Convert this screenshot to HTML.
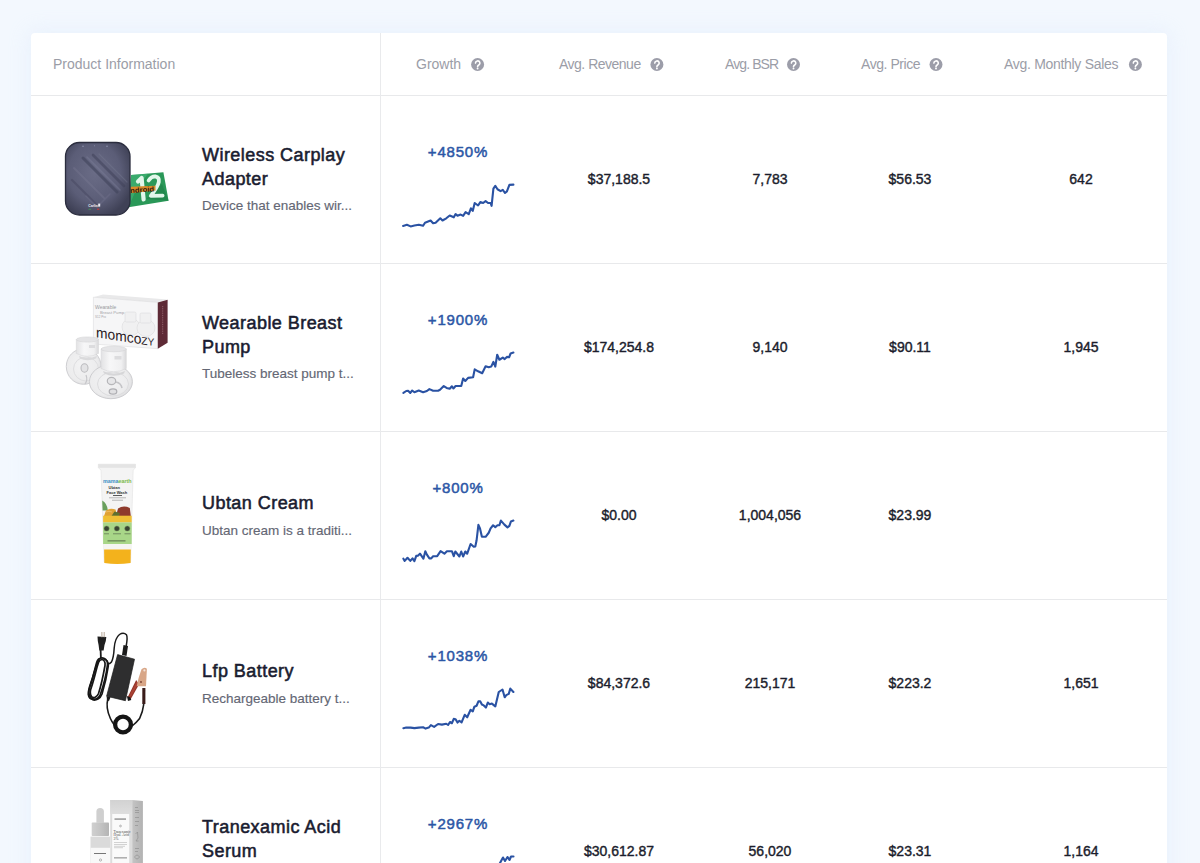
<!DOCTYPE html>
<html>
<head>
<meta charset="utf-8">
<style>
html,body{margin:0;padding:0}
body{width:1200px;height:863px;overflow:hidden;background:#f3f8fe;font-family:"Liberation Sans",sans-serif;position:relative}
.card{position:absolute;left:31px;top:33px;width:1136px;height:900px;background:#fff;border-radius:4px;box-shadow:0 0 20px 2px rgba(208,226,250,0.3)}
.hl{position:absolute;left:31px;width:1136px;height:1px;background:#e8e9eb}
.vl{position:absolute;left:380px;top:33px;width:1px;height:840px;background:#e9eaec}
.t{position:absolute;white-space:nowrap}
.hd{font-size:14px;color:#9b9da7;line-height:16px;top:56px}
.ti{font-size:18px;font-weight:400;-webkit-text-stroke:0.55px #1a1c30;letter-spacing:0.45px;color:#1a1c30;line-height:24px;left:202px}
.ds{font-size:13.5px;color:#646774;-webkit-text-stroke:0.15px #646774;line-height:16px;left:202px}
.num{font-size:14px;font-weight:400;-webkit-text-stroke:0.4px #1b1d2c;color:#1b1d2c;line-height:16px;width:200px;text-align:center}
.gr{font-size:15px;font-weight:400;-webkit-text-stroke:0.5px #2c57a6;color:#2c57a6;line-height:18px;width:200px;text-align:center;letter-spacing:0.8px}
svg{position:absolute;left:0;top:0}
</style>
</head>
<body>
<div class="card"></div>
<div class="hl" style="top:95px"></div>
<div class="hl" style="top:263px"></div>
<div class="hl" style="top:431px"></div>
<div class="hl" style="top:599px"></div>
<div class="hl" style="top:767px"></div>
<div class="vl"></div>

<!-- header -->
<div class="t hd" style="left:53px">Product Information</div>
<div class="t hd" style="left:416px">Growth</div>
<div class="t hd" style="left:559px;letter-spacing:-0.5px">Avg. Revenue</div>
<div class="t hd" style="left:725px;letter-spacing:-0.9px">Avg. BSR</div>
<div class="t hd" style="left:861px;letter-spacing:-0.45px">Avg. Price</div>
<div class="t hd" style="left:1004px;letter-spacing:-0.3px">Avg. Monthly Sales</div>

<!-- row titles -->
<div class="t ti" style="top:143px">Wireless Carplay<br>Adapter</div>
<div class="t ds" style="top:198px">Device that enables wir...</div>
<div class="t ti" style="top:311px">Wearable Breast<br>Pump</div>
<div class="t ds" style="top:366px">Tubeless breast pump t...</div>
<div class="t ti" style="top:491px">Ubtan Cream</div>
<div class="t ds" style="top:523px">Ubtan cream is a traditi...</div>
<div class="t ti" style="top:659px">Lfp Battery</div>
<div class="t ds" style="top:691px">Rechargeable battery t...</div>
<div class="t ti" style="top:815px">Tranexamic Acid<br>Serum</div>

<!-- growth -->
<div class="t gr" style="left:358px;top:143px">+4850%</div>
<div class="t gr" style="left:358px;top:311px">+1900%</div>
<div class="t gr" style="left:358px;top:479px">+800%</div>
<div class="t gr" style="left:358px;top:647px">+1038%</div>
<div class="t gr" style="left:358px;top:815px">+2967%</div>

<!-- numbers -->
<div class="t num" style="left:519px;top:171px">$37,188.5</div>
<div class="t num" style="left:670px;top:171px">7,783</div>
<div class="t num" style="left:810px;top:171px">$56.53</div>
<div class="t num" style="left:981px;top:171px">642</div>

<div class="t num" style="left:519px;top:339px">$174,254.8</div>
<div class="t num" style="left:670px;top:339px">9,140</div>
<div class="t num" style="left:810px;top:339px">$90.11</div>
<div class="t num" style="left:981px;top:339px">1,945</div>

<div class="t num" style="left:519px;top:507px">$0.00</div>
<div class="t num" style="left:670px;top:507px">1,004,056</div>
<div class="t num" style="left:810px;top:507px">$23.99</div>

<div class="t num" style="left:519px;top:675px">$84,372.6</div>
<div class="t num" style="left:670px;top:675px">215,171</div>
<div class="t num" style="left:810px;top:675px">$223.2</div>
<div class="t num" style="left:981px;top:675px">1,651</div>

<div class="t num" style="left:519px;top:843px">$30,612.87</div>
<div class="t num" style="left:670px;top:843px">56,020</div>
<div class="t num" style="left:810px;top:843px">$23.31</div>
<div class="t num" style="left:981px;top:843px">1,164</div>

<svg width="1200" height="863" viewBox="0 0 1200 863">
<g transform="translate(477.6 64.5)"><circle r="6.5" fill="#9c9da9"/><path d="M-2.1,-1.4 A2.2,2.2 0 1 1 1.2,0.5 C0.3,1 0,1.3 0,2.2" fill="none" stroke="#fff" stroke-width="1.6" stroke-linecap="round"/><circle cy="4" r="0.95" fill="#fff"/></g>
<g transform="translate(656.9 64.5)"><circle r="6.5" fill="#9c9da9"/><path d="M-2.1,-1.4 A2.2,2.2 0 1 1 1.2,0.5 C0.3,1 0,1.3 0,2.2" fill="none" stroke="#fff" stroke-width="1.6" stroke-linecap="round"/><circle cy="4" r="0.95" fill="#fff"/></g>
<g transform="translate(793.5 64.5)"><circle r="6.5" fill="#9c9da9"/><path d="M-2.1,-1.4 A2.2,2.2 0 1 1 1.2,0.5 C0.3,1 0,1.3 0,2.2" fill="none" stroke="#fff" stroke-width="1.6" stroke-linecap="round"/><circle cy="4" r="0.95" fill="#fff"/></g>
<g transform="translate(936 64.5)"><circle r="6.5" fill="#9c9da9"/><path d="M-2.1,-1.4 A2.2,2.2 0 1 1 1.2,0.5 C0.3,1 0,1.3 0,2.2" fill="none" stroke="#fff" stroke-width="1.6" stroke-linecap="round"/><circle cy="4" r="0.95" fill="#fff"/></g>
<g transform="translate(1135.4 64.5)"><circle r="6.5" fill="#9c9da9"/><path d="M-2.1,-1.4 A2.2,2.2 0 1 1 1.2,0.5 C0.3,1 0,1.3 0,2.2" fill="none" stroke="#fff" stroke-width="1.6" stroke-linecap="round"/><circle cy="4" r="0.95" fill="#fff"/></g>

<g fill="none" stroke="#2a52a3" stroke-width="2.1" stroke-linejoin="round" stroke-linecap="round">
<polyline points="403.1,226 406.9,224.8 410.6,226.4 414.4,225.5 418.8,224.8 423.1,225.8 425,222.7 430.6,220.5 433.1,223.3 435.6,222.7 440.3,218.3 442.5,220.5 446.3,218.3 449.7,215.5 453.8,217.3 455.6,214.1 457.5,215.8 460.6,214.6 463.1,215.8 465.6,212.1 468.75,214.1 470.9,208.3 472.8,210.8 474.7,203 478.1,205.5 480.3,202.1 483.1,203 485.6,201.1 488.1,203 490.6,203 491.6,205.8 493.4,188.6 495.3,185.8 497.5,189.25 500.6,191.1 502.8,189.9 505,193 506.9,191.4 509.4,184.9 513.4,184.6"/>
<polyline points="403.4,392.9 406.25,391 408.1,390.7 410.3,392.9 412.2,390.5 414.4,392.25 418.75,390.5 423.1,392.25 426.9,391 429.4,389.1 433.1,390.7 438.1,390.7 440,389.75 443.75,386 446.6,387.9 449.7,388.8 451.9,386.3 453.4,388.5 455.6,386 457.5,386 461.25,386 463.1,378.5 465.3,381 468.1,377.9 473.1,377.25 474.7,369.4 478.1,371.3 482.2,373.2 485.6,366.3 488.75,367.25 491.25,366.6 493.4,361.9 495.3,366.6 497.2,354.75 499.4,359.75 502.8,357.6 504.7,359.1 506.9,356.9 509.1,357.25 510.6,353.5 513.4,352.6"/>
<polyline points="403.4,558.7 404.7,560.9 407.5,557.75 410.3,560.9 412.5,558.4 414.4,561.2 416.25,555.9 418.1,555.6 420,553.7 423.4,558.7 425.3,551.2 426.9,554.6 429.4,558.4 431.25,558.4 433.1,556.2 437.2,556.2 440.6,551.2 444.4,553.7 446.9,551.2 451.9,551.2 453.75,556.2 455.3,551.5 459.4,556.5 461.25,551.5 463.1,556.5 465.3,551.5 467.2,553.7 470.6,544 473.75,546.8 475.3,546.5 476.6,540.25 478.4,524.9 480,528.4 481.9,536.8 485.6,536.8 488.75,532.75 490.6,528.4 493.1,525.25 495.3,527.1 497.5,525.25 499.4,525.25 500.9,520.6 504.4,524.6 507.5,527.4 509.4,525.9 510.9,521.5 513.4,520.6"/>
<polyline points="403.4,728.25 406.25,727.5 410.6,727.6 414.4,728.1 418.75,727.6 423.1,727.3 425.6,728.6 428.75,727.6 430.9,725.1 434.1,726.9 438.1,724 441.9,724.6 446.25,723.75 448.1,725 450,722 451.9,723.25 453.75,718.9 455.6,719.2 457.5,722.6 459.4,720.75 461.6,722.3 464.7,714.8 467.2,717.3 470.6,709.8 472.8,711.4 474.4,706.7 476.6,705.75 478.4,701.4 480.3,701.4 481.9,704.5 483.75,705.4 485.9,707.6 487.8,702.6 489.7,704.2 491.9,703.6 495.3,706.4 498.75,692 502.5,689.5 504.7,697.3 506.25,695.1 508.75,693.9 510.3,688.6 513.4,692"/>
<polyline points="497,870 500,863 503,857.5 505,861 507.5,857 509.5,860 511,856.5 513.5,856.5"/>
</g>

<!-- PRODUCT IMAGES -->
<!-- 2: momcozy -->
<polygon points="93.4,297.2 103,294.5 167.6,299.6 157.8,302.4" fill="#e9e9ea"/>
<polygon points="93.4,297.2 157.8,302.4 157.8,348.7 93.4,344" fill="#f6f6f7" stroke="#dcdcde" stroke-width="0.6"/>
<polygon points="157.8,302.4 167.6,299.8 167.6,342.7 157.8,348.7" fill="#5e2a36"/>
<line x1="162.7" y1="306" x2="162.7" y2="334" stroke="#b58a92" stroke-width="0.6" stroke-dasharray="1 0.8"/>
<text x="95" y="309" font-family="Liberation Sans" font-size="5" fill="#9a9a9e">Wearable</text>
<text x="100" y="314" font-family="Liberation Sans" font-size="4.2" fill="#a4a4a8">Breast Pump</text>
<text x="95" y="318" font-family="Liberation Sans" font-size="3" fill="#a4a4a8">S12 Pro</text>
<g fill="#f0f0f1" stroke="#d6d6d8" stroke-width="0.5">
<ellipse cx="131" cy="327" rx="9" ry="8.5"/><ellipse cx="146" cy="328" rx="9" ry="8.5"/>
<rect x="125" y="312" width="11" height="10" rx="1.5"/><rect x="140" y="313" width="11" height="10" rx="1.5"/>
</g>
<text x="96" y="337.3" font-family="Liberation Sans" font-size="14.5" fill="#2a1a1e" transform="translate(96 337.3) skewY(8.6) translate(-96 -337.3)" textLength="58.5" lengthAdjust="spacingAndGlyphs">momco<tspan font-size="10.8">ZY</tspan></text>
<!-- pumps -->
<defs>
<radialGradient id="bowl" cx="0.45" cy="0.45" r="0.6"><stop offset="0" stop-color="#f3f3f4"/><stop offset="0.75" stop-color="#ececed"/><stop offset="1" stop-color="#dcdcde"/></radialGradient>
<linearGradient id="cyl" x1="0" y1="0" x2="1" y2="0"><stop offset="0" stop-color="#e2e2e4"/><stop offset="0.35" stop-color="#f7f7f8"/><stop offset="0.8" stop-color="#f0f0f1"/><stop offset="1" stop-color="#d8d8da"/></linearGradient>
</defs>
<ellipse cx="83.7" cy="366.5" rx="17.4" ry="17.8" fill="url(#bowl)" stroke="#cfcfd2" stroke-width="1"/>
<ellipse cx="86" cy="369" rx="12.5" ry="12" fill="none" stroke="#dedee0" stroke-width="1"/>
<path d="M76.3,339.5 L76.3,353.5 Q87.4,359 98.5,353.5 L98.5,339.5 Z" fill="url(#cyl)" stroke="#d4d4d6" stroke-width="0.5"/>
<ellipse cx="87.4" cy="339.5" rx="11.1" ry="2.6" fill="#e4e4e6" stroke="#d0d0d2" stroke-width="0.5"/>
<path d="M79,356 Q87,360 97,356 L96,358.5 Q87,362 80,358.5 Z" fill="#dadadc"/>
<ellipse cx="84.5" cy="368" rx="3.5" ry="4.2" fill="#e3e3e5" stroke="#bcbcbf" stroke-width="1.1"/>
<path d="M86,375 Q88,380 85,384" stroke="#c6c6c9" stroke-width="1.2" fill="none"/>
<rect x="89" y="345" width="6" height="3" fill="#dcdcde"/>
<ellipse cx="110.9" cy="381.7" rx="21.5" ry="17" fill="url(#bowl)" stroke="#cdcdd0" stroke-width="1"/>
<ellipse cx="113" cy="384" rx="15.5" ry="12" fill="none" stroke="#dcdcde" stroke-width="1"/>
<path d="M101.1,349 L101.1,368.5 Q113.7,375 126.3,368.5 L126.3,349 Z" fill="url(#cyl)" stroke="#d2d2d4" stroke-width="0.5"/>
<ellipse cx="113.7" cy="349" rx="12.6" ry="2.8" fill="#e5e5e7" stroke="#cfcfd1" stroke-width="0.5"/>
<path d="M103,371 Q113.7,376 125,371 L124,373.5 Q113.7,378 104,373.5 Z" fill="#d6d6d8"/>
<ellipse cx="111.5" cy="381" rx="4.2" ry="3.6" fill="#e6e6e8" stroke="#b6b6b9" stroke-width="1.2"/>
<path d="M116,382 Q121,383 122,388" stroke="#c4c4c7" stroke-width="1.6" fill="none"/>
<ellipse cx="113" cy="391.5" rx="3.8" ry="2.6" fill="#e0e0e2" stroke="#aeaeb2" stroke-width="1.2"/>
<rect x="114.5" y="356" width="7" height="3.5" fill="#dcdcde"/>
<!-- 3: ubtan tube -->
<path d="M98.3,464.2 L135.5,464.2 L135.5,467.8 L133.2,470 L130.6,562 Q117,564.5 104.1,562 L101,470 L98.3,467.8 Z" fill="#f4f4f4" stroke="#dedede" stroke-width="0.5"/>
<rect x="98.3" y="464.2" width="37.2" height="3.6" fill="#e4e4e4"/>
<text x="103" y="483.3" font-family="Liberation Sans" font-weight="700" font-size="5.2" fill="#3a8fc4" textLength="28.5" lengthAdjust="spacingAndGlyphs">mama<tspan fill="#79b84a">earth</tspan></text>
<text x="108.5" y="488.5" font-family="Liberation Sans" font-weight="700" font-size="4" fill="#333">Ubtan</text>
<text x="106.5" y="493.5" font-family="Liberation Sans" font-weight="700" font-size="4" fill="#333">Face Wash</text>
<rect x="113" y="495" width="9" height="0.8" fill="#333"/>
<rect x="109" y="497.5" width="17" height="0.7" fill="#999"/><rect x="112" y="499.8" width="11" height="0.7" fill="#999"/>
<path d="M102.2,500.5 Q107,503 107.8,510.5 L102.6,510.5 Z" fill="#6aa05e"/>
<path d="M104,516 L106,510.5 Q110.5,507.5 115.5,509.5 L117.5,516 Z" fill="#e0a234"/>
<path d="M116,516 L118,508.5 Q123.5,505 129.8,508 L130.8,516 Z" fill="#8e3a2c"/>
<path d="M111.5,516 L114.5,511.5 L120,513 L119,516 Z" fill="#5e7030"/>
<path d="M106,512 Q109,510.5 112,512" stroke="#f0c070" stroke-width="0.8" fill="none"/>
<rect x="103.1" y="515.7" width="28.6" height="6.8" fill="#efbf35"/>
<rect x="103.1" y="522.4" width="28.6" height="21.6" fill="#a8d688"/>
<g fill="#3a4532" stroke="#7f9a68" stroke-width="0.5"><circle cx="106.6" cy="528.5" r="2.6"/><circle cx="116.9" cy="528.5" r="2.6"/><circle cx="127.3" cy="528.5" r="2.6"/></g>
<rect x="104" y="533.5" width="5" height="0.7" fill="#5a6e4e"/><rect x="113" y="533.5" width="8" height="0.7" fill="#5a6e4e"/><rect x="124.5" y="533.5" width="6" height="0.7" fill="#5a6e4e"/>
<rect x="107.5" y="540.5" width="18" height="0.8" fill="#44573a"/>
<rect x="103.3" y="544.2" width="28.2" height="5.2" fill="#f5f5f3"/>
<path d="M104.1,549.6 L130.8,549.6 L130.6,563 Q117,565 104.3,563 Z" fill="#f3b21c"/>

<!-- 4: charger -->
<g fill="none" stroke="#1a1a1a" stroke-linecap="round" stroke-linejoin="round">
<path d="M100.6,650 L100.9,658" stroke-width="1.8"/>
<path d="M126.2,646 Q127.8,637 126.5,634.8 Q123.5,631.8 119.5,634.5 Q115,638 114.2,648 Q113.6,658 111.5,662 Q110,664 107.5,664" stroke-width="1.5"/>
<path d="M107.8,699 Q105.5,708 110.4,718.5 Q112,722 114,724.5" stroke-width="1.6"/>
<path d="M131.5,726.5 Q137,722 139.6,718.5 Q143,711 143.6,705 L144.3,690" stroke-width="1.6"/>
</g>
<g fill="none" stroke="#161616" stroke-width="1.7" stroke-linejoin="round">
<path d="M101,658 C104.5,657.5 107.8,660 107.6,664 C106.5,673 103,687 100,695.5 C98,699.5 93.5,700 91.2,698 C88.5,695.5 88.5,690.5 90,686.5 C93,678 95,667.5 97,661.5 C97.8,659 99,658.2 101,658 Z"/>
<path d="M101.5,659.5 C104,659.5 105.5,662 105,665.5 C103.5,674 101,686 98.5,693.5 C97,697.5 93.5,698.5 91.5,696.5 C90,694.5 90.3,690 91.5,687 C94.5,678 96.5,668 98.5,662.5 C99.3,660.5 100.3,659.7 101.5,659.5 Z"/>
<path d="M102.5,658.5 C106.5,659 108.8,662 108.3,666 C107,675 104.5,686 102,694 C100.3,698.8 96,700.8 92.5,699.8"/>
<path d="M99.5,659 C97,662 95,670 92.5,678 C90.5,684 87.8,690 88.3,694.5 C88.8,698 91,699.5 93,699.5"/>
</g>
<ellipse cx="123" cy="724.5" rx="7.9" ry="7.8" fill="none" stroke="#151515" stroke-width="4.3"/>
<polygon points="117.6,654.6 134.5,659.2 125.4,700.7 106.6,696.2" fill="#2e2e2f" stroke="#1c1c1c" stroke-width="0.7"/>
<polygon points="123.5,644.9 128,646 126.5,656 122,655" fill="#1b1b1b"/>
<path d="M106.6,696.2 L110.5,697.2 L109,701 L107,700.5 Z" fill="#1b1b1b"/>
<path d="M97.5,636.5 L106.3,637 L105.8,641 L104.5,645 L103.6,650.5 L99.3,650.5 L98.6,645 L97.8,641 Z" fill="#1f1f1f"/>
<rect x="101.2" y="632" width="1.3" height="5.2" fill="#c8bcb0"/><rect x="103.6" y="632" width="1.3" height="5.2" fill="#c8bcb0"/>
<path d="M142.3,688 L145.4,688 L145.4,704 L142.3,704 Z" fill="#3a1c1a"/>
<path d="M136.2,680 L139,684.5 L130.5,699.5 L127.5,697.5 Z" fill="#933529"/>
<path d="M136.8,681.5 L138.2,683.8 L131,696.5 L129.5,695.5 Z" fill="#b5493a" opacity="0.7"/>
<path d="M141.5,669.3 Q144.4,666.5 146.9,668.8 L146,686.3 L136.7,686.3 L138.6,678 Z" fill="#d8a687"/>
<circle cx="144.4" cy="670.4" r="1.1" fill="#f3e4da"/>
<circle cx="141" cy="682" r="0.9" fill="#7a4030"/>
<path d="M126.9,696 L130,697.3 L131.3,700 L128,701 Z" fill="#151515"/>
<!-- 5: serum -->
<defs>
<linearGradient id="sside" x1="0" y1="0" x2="1" y2="0"><stop offset="0" stop-color="#c4c4c4"/><stop offset="1" stop-color="#b2b2b2"/></linearGradient>
<linearGradient id="stop" x1="0" y1="0" x2="0" y2="1"><stop offset="0" stop-color="#d2d2d2"/><stop offset="1" stop-color="#dedede"/></linearGradient>
<linearGradient id="scol" x1="0" y1="0" x2="1" y2="0"><stop offset="0" stop-color="#d0d0d0"/><stop offset="0.5" stop-color="#c4c4c4"/><stop offset="1" stop-color="#b4b4b4"/></linearGradient>
</defs>
<rect x="110.2" y="800" width="22" height="70" fill="#dcdcdc"/>
<rect x="110.2" y="800" width="22" height="14" fill="url(#stop)"/>
<rect x="112.2" y="814" width="17" height="56" fill="#fafafa"/>
<polygon points="132.2,800 142.9,801 142.9,870 132.2,870" fill="url(#sside)"/>
<rect x="114.5" y="818.6" width="11.5" height="0.9" fill="#555"/>
<circle cx="120.5" cy="826" r="0.9" fill="none" stroke="#777" stroke-width="0.5"/>
<text x="113.6" y="832.5" font-family="Liberation Serif" font-size="3.6" fill="#444">Tranexamic</text>
<text x="113.6" y="836.2" font-family="Liberation Serif" font-size="3.6" fill="#444">Hyal. Acid</text>
<text x="113.6" y="839.8" font-family="Liberation Serif" font-size="3.6" fill="#444">3%</text>
<rect x="114" y="842.5" width="13" height="0.5" fill="#aaa"/><rect x="114" y="844.2" width="13" height="0.5" fill="#aaa"/><rect x="114" y="845.9" width="11" height="0.5" fill="#aaa"/><rect x="114" y="847.6" width="9" height="0.5" fill="#aaa"/>
<rect x="114" y="857.5" width="13" height="0.8" fill="#666"/>
<g fill="#7a7a7a" opacity="0.75"><rect x="135" y="807" width="3" height="0.6"/><rect x="135" y="810" width="4" height="0.6"/><rect x="135" y="812" width="4" height="0.6"/><rect x="135" y="817" width="4" height="0.6"/><rect x="135" y="821" width="4" height="0.6"/><rect x="135" y="825" width="3" height="0.6"/><path d="M135.5,834 L137.5,832 L138,838 L136,841 L138.5,841" fill="none" stroke="#7a7a7a" stroke-width="0.6"/><rect x="135" y="848" width="4" height="0.6"/><rect x="135" y="851" width="3" height="0.6"/><path d="M134.5,857 Q137,853 139.5,857 Q137,861 134.5,857" fill="none" stroke="#7a7a7a" stroke-width="0.6"/></g>
<path d="M96.4,822.8 L96.4,811.5 Q96.4,808 100.15,808 Q103.9,808 103.9,811.5 L103.9,822.8 Z" fill="#cfcfcf"/>
<rect x="91.7" y="822.6" width="17.3" height="13.4" rx="0.8" fill="url(#scol)"/>
<rect x="90.5" y="836.6" width="19.5" height="30" fill="#dadada"/>
<rect x="90.5" y="847.8" width="19.5" height="20" fill="#f8f8f8"/>
<rect x="94" y="853" width="12" height="0.8" fill="#555"/>
<circle cx="100.5" cy="860" r="1.1" fill="none" stroke="#777" stroke-width="0.5"/>

<!-- 1: carplay -->
<defs>
<radialGradient id="cpg" cx="0.45" cy="0.42" r="0.62">
<stop offset="0" stop-color="#6a6c86"/><stop offset="0.65" stop-color="#5b5d77"/><stop offset="1" stop-color="#3f4156"/>
</radialGradient>
<clipPath id="cpc"><rect x="65.5" y="142.5" width="64.5" height="72.5" rx="14" ry="14"/></clipPath>
</defs>
<polygon points="131,175.1 163.4,172.3 168.6,200.7 128.5,207.2" fill="#2a9858"/>
<polygon points="131,175.1 148,173.8 136,190 128.5,207.2" fill="#45b97e" opacity="0.55"/>
<polygon points="146,199 168.6,200.7 162,184" fill="#1f7f48" opacity="0.6"/>
<g fill="none" stroke="#e2f6ea" stroke-linecap="round" stroke-linejoin="round">
<path d="M138,181.5 L141.6,178 L143.6,199.5" stroke-width="4.2"/>
<path d="M148.6,180.5 Q151.5,176.2 155.3,176.4 Q159.6,177.2 158.8,182 Q158,186.5 150.8,195.8 L162.6,195.6" stroke-width="3.8"/>
</g>
<polygon points="130.4,186.8 155.5,185.7 155.5,190.6 130.4,193.3" fill="#d88a2a"/>
<text x="130.2" y="192.3" font-family="Liberation Sans" font-weight="700" font-size="7" fill="#2f1a0c" textLength="24" lengthAdjust="spacingAndGlyphs" transform="rotate(-4 140 190)">ndroid</text>
<rect x="65.5" y="142.5" width="64.5" height="72.5" rx="14" ry="14" fill="url(#cpg)" stroke="#2b2d3e" stroke-width="1.3"/>
<g clip-path="url(#cpc)" stroke-linecap="round" fill="none">
<line x1="83" y1="158" x2="117" y2="192" stroke="#40425a" stroke-width="3" opacity="0.6"/>
<line x1="93" y1="155" x2="124" y2="186" stroke="#40425a" stroke-width="2.6" opacity="0.55"/>
<line x1="87" y1="157" x2="120" y2="190" stroke="#7b7d96" stroke-width="1.6" opacity="0.45"/>
<line x1="99" y1="154" x2="127" y2="182" stroke="#7b7d96" stroke-width="1.3" opacity="0.35"/>
<line x1="74" y1="168" x2="104" y2="198" stroke="#7a7c95" stroke-width="2" opacity="0.35"/>
<line x1="72" y1="180" x2="96" y2="204" stroke="#40425a" stroke-width="2.2" opacity="0.4"/>
<path d="M86,196 L97,207 L110,194" stroke="#7a7c95" stroke-width="1.6" opacity="0.3"/>
</g>
<circle cx="83" cy="146.3" r="0.8" fill="#8d91ab"/><circle cx="94.5" cy="145.8" r="0.5" fill="#8d91ab"/><circle cx="107" cy="146.3" r="0.8" fill="#8d91ab"/>
<text x="88.2" y="207" font-family="Liberation Sans" font-weight="700" font-size="3.4" fill="#eceef6">Carlin</text>
<rect x="98.2" y="203.6" width="2" height="3" fill="#eceef6"/>
<rect x="88.5" y="208.8" width="2.5" height="0.9" fill="#3c9c50"/><rect x="97" y="208.6" width="2.3" height="1.2" fill="#c23a3a"/>
</svg>
</body>
</html>
